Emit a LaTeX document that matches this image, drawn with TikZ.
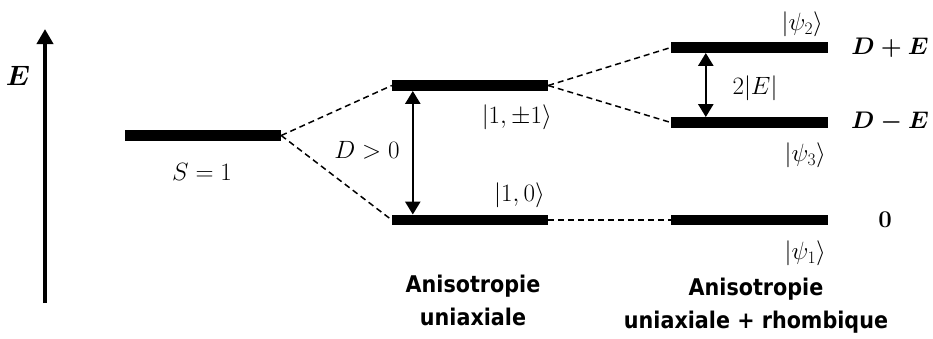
\RequirePackage{fix-cm}
\documentclass[tikz,border=0pt]{standalone}
\usepackage{amsmath,bm}
\usepackage{fontspec}
\newfontfamily\labfont[FakeStretch=0.9]{DejaVu Sans Bold}
\usetikzlibrary{arrows.meta}
\tikzset{
  lvl/.style={fill=black,inner sep=0pt,minimum height=10.5pt,minimum width=#1},
  lvl/.default=156pt,
  trans/.style={dashed,dash pattern=on 6pt off 4pt,line width=1.5pt},
  dbl/.style={line width=2.5pt,{Triangle[width=15pt,length=13pt]}-{Triangle[width=15pt,length=13pt]}},
  axis/.style={line width=4.5pt,-{Triangle[width=16pt,length=15pt]}},
  mlab/.style={inner sep=0pt,font=\fontsize{25}{29}\selectfont},
  blab/.style={inner sep=0pt,font=\fontsize{24}{28}\selectfont\boldmath},
  slab/.style={inner sep=0pt,align=center,anchor=base,font=\fontsize{23}{33}\selectfont\labfont}
}
\begin{document}
\begin{tikzpicture}[x=1pt,y=-1pt]
\useasboundingbox (0,0) rectangle (933,338);
% axis
\coordinate (ax0) at (45,303);
\coordinate (ax1) at (45,29);
\draw[axis] (ax0) -- (ax1);
\node[inner sep=0pt,font=\fontsize{28}{30}\selectfont] (E) at (18,76) {$\bm{E}$};
% levels
\node[lvl] (s) at (203,135.5) {};
\node[lvl] (m1) at (470,85.5) {};
\node[lvl] (m0) at (470,220) {};
\node[lvl=157pt] (r2) at (749.5,47.5) {};
\node[lvl=157pt] (r3) at (749.5,122.5) {};
\node[lvl=157pt] (r1) at (749.5,220) {};
% dashed correlations
\draw[trans] (s.east) -- (m1.west);
\draw[trans] (s.east) -- (m0.west);
\draw[trans] (m1.east) -- (r2.west);
\draw[trans] (m1.east) -- (r3.west);
\draw[trans] (m0.east) -- (r1.west);
% double arrows
\draw[dbl] ([xshift=21pt]m1.south west) -- ([xshift=21pt]m0.north west);
\draw[dbl] ([xshift=35pt]r2.south west) -- ([xshift=35pt]r3.north west);
% labels
\node[mlab] (ls) at (202,172) {$S=1$};
\node[mlab] (ld) at (367,150) {$D>0$};
\node[mlab,anchor=east] (lpm) at (552,117) {$|1,\pm1\rangle$};
\node[mlab,anchor=east] (lz) at (545,195) {$|1,0\rangle$};
\node[mlab,anchor=east] (p2) at (823,24) {$|\psi_2\rangle$};
\node[mlab,anchor=east] (p3) at (826,155) {$|\psi_3\rangle$};
\node[mlab,anchor=east] (p1) at (826,253) {$|\psi_1\rangle$};
\node[mlab] (le) at (755,88) {$2|E|$};
\node[blab] (dpe) at (890,48) {$D+E$};
\node[blab] (dme) at (890,122) {$D-E$};
\node[blab] (zero) at (885,220) {$\mathbf{0}$};
\node[slab] (t1) at (473,325) {Anisotropie\\uniaxiale};
\node[slab] (t2) at (756,328) {Anisotropie\\uniaxiale + rhombique};
\end{tikzpicture}
\end{document}
